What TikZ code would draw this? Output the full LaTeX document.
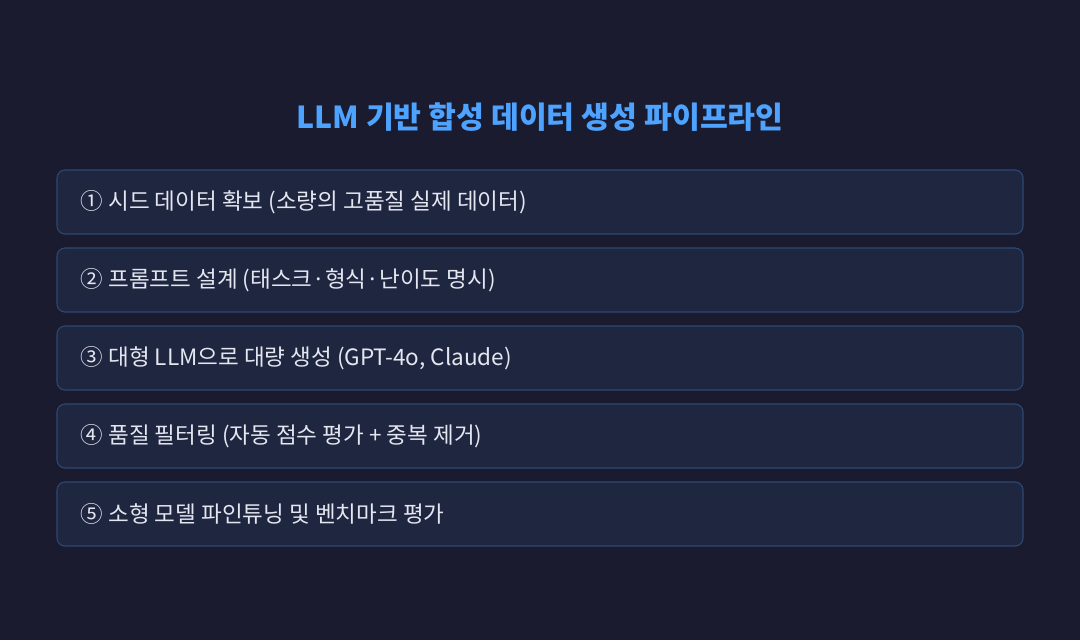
\documentclass[tikz,border=0pt]{standalone}
\usepackage{fontspec}
\setmainfont{Noto Sans CJK KR}
\definecolor{bgc}{HTML}{1A1B2E}
\definecolor{boxfill}{HTML}{1F2640}
\definecolor{boxline}{HTML}{2E4874}
\definecolor{titlec}{HTML}{4DA3FF}
\definecolor{txtc}{HTML}{E4E6F0}
\begin{document}
\begin{tikzpicture}[x=0.75pt,y=-0.75pt,
  stepbox/.style={draw=boxline,line width=0.8pt,fill=boxfill,rounded corners=6pt,
    minimum width=966*0.75pt,minimum height=64*0.75pt,inner sep=0pt},
  steplabel/.style={text=txtc,font=\fontsize{16.9pt}{20pt}\selectfont,anchor=west,inner sep=0pt},
  titlestyle/.style={text=titlec,font=\fontsize{22.7pt}{27pt}\selectfont\bfseries,inner sep=0pt}]
\fill[bgc] (0,0) rectangle (1080,640);
\useasboundingbox (0,0) rectangle (1080,640);
\node[titlestyle] (title) at (540,117) {LLM 기반 합성 데이터 생성 파이프라인};
\foreach \i/\t in {1/{① 시드 데이터 확보 (소량의 고품질 실제 데이터)},
                   2/{② 프롬프트 설계 (태스크·형식·난이도 명시)},
                   3/{③ 대형 LLM으로 대량 생성 (GPT-4o, Claude)},
                   4/{④ 품질 필터링 (자동 점수 평가 + 중복 제거)},
                   5/{⑤ 소형 모델 파인튜닝 및 벤치마크 평가}}{
  \node[stepbox] (box\i) at (540,{202+78*(\i-1)}) {};
  \node[steplabel] (lab\i) at ([xshift=24*0.75pt]box\i.west) {\t};
}
\end{tikzpicture}
\end{document}
